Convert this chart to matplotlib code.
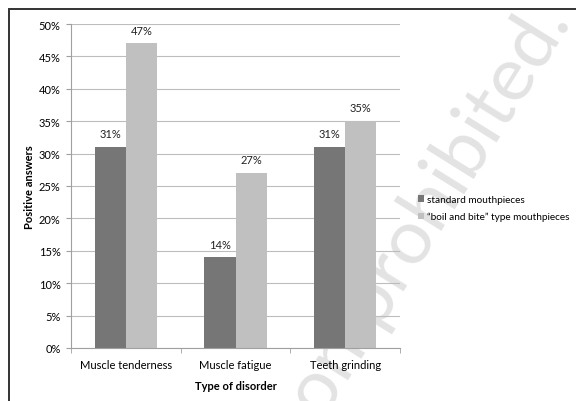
import matplotlib.pyplot as plt
import numpy as np
from matplotlib.patches import Rectangle

plt.rcParams["font.family"] = ["Lato", "DejaVu Sans"]

CATEGORIES = ["Muscle tenderness", "Muscle fatigue", "Teeth grinding"]
STANDARD = [31, 14, 31]
BOIL_BITE = [47, 27, 35]
SERIES = ["standard mouthpieces", "\u201cboil and bite\u201d type mouthpieces"]
COLORS = ["#767676", "#C0C0C0"]

W, H = 576, 402
fig = plt.figure(figsize=(W / 100, H / 100), dpi=100)

# watermark, drawn first so the chart sits on top of it
fig.text(572 / W, 1 - 22 / H, "on prohibited.", fontsize=55, color="#E3E3E3",
         rotation=58, rotation_mode="anchor", ha="right", va="baseline", zorder=-5)

ax = fig.add_axes([71 / W, 1 - 349 / H, 329 / W, 324 / H])
ax.patch.set_visible(False)

x = np.arange(len(CATEGORIES))
w = 0.283
for offset, values, color, label in [(-w / 2, STANDARD, COLORS[0], SERIES[0]),
                                     (w / 2, BOIL_BITE, COLORS[1], SERIES[1])]:
    ax.bar(x + offset, values, width=w, color=color, label=label, zorder=2)
    for xi, v in zip(x + offset, values):
        ax.text(xi, v + 1.2, f"{v}%", ha="center", va="bottom", fontsize=8, color="#222222")

ax.set_xlim(-0.5, 2.5)
ax.set_ylim(0, 50)
ax.set_yticks(np.arange(0, 51, 5))
ax.set_yticklabels([f"{t}%" for t in range(0, 51, 5)], fontsize=8)
ax.set_xticks(x)
ax.set_xticklabels(CATEGORIES, fontsize=8)
ax.set_xticks([-0.5, 0.5, 1.5, 2.5], minor=True)
ax.tick_params(axis="x", which="major", length=0, pad=8)
ax.tick_params(axis="x", which="minor", length=3.5, color="#A0A0A0")
ax.tick_params(axis="y", length=3.5, color="#A0A0A0", pad=4)
ax.grid(axis="y", color="#BDBDBD", linewidth=0.8, zorder=0)
ax.set_axisbelow(True)
for side in ["top", "right"]:
    ax.spines[side].set_visible(False)
ax.spines["left"].set_color("#A0A0A0")
ax.spines["bottom"].set_color("#A0A0A0")

ax.set_ylabel("Positive answers", fontsize=8, fontweight="bold")
ax.yaxis.set_label_coords(-0.109, 0.5)
ax.set_xlabel("Type of disorder", fontsize=8, fontweight="bold", labelpad=7)

fig.legend(loc="upper left", bbox_to_anchor=(414 / W, 1 - 192 / H), frameon=False,
           fontsize=7.2, handlelength=0.6, handleheight=0.6, handletextpad=0.3,
           labelspacing=0.8, borderaxespad=0)

fig.patches.append(Rectangle((9 / W, -0.1), 1.2, 1 - 10 / H + 0.1,
                             transform=fig.transFigure, fill=False,
                             edgecolor="#333333", linewidth=1.4))

fig.savefig("out.png", dpi=100, facecolor="white")
